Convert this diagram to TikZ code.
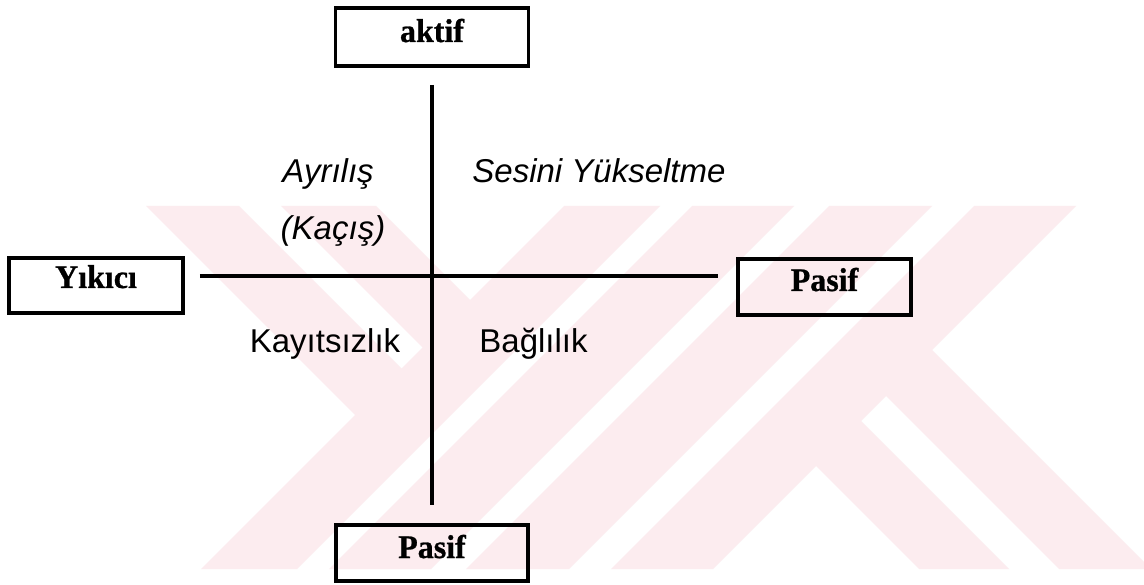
\documentclass[tikz,border=0pt]{standalone}
\usepackage{fontspec}
\setmainfont{Liberation Serif}
\newfontfamily\sansf{Liberation Sans}
\newfontface\boxfont[FakeStretch=0.97,FakeBold=0.8]{Liberation Serif Bold}
\definecolor{wmpink}{RGB}{252,236,239}
\begin{document}
\begin{tikzpicture}[x=1pt,y=-1pt,
  boxnode/.style={draw=black, line width=3.6pt, inner xsep=0pt, inner ysep=0pt,
    anchor=base, font=\boxfont\fontsize{33}{38}\selectfont},
  axisline/.style={draw=black, line width=3.6pt},
  lab/.style={anchor=base, inner sep=0pt, font=\sansf\fontsize{33}{38}\selectfont},
  itlab/.style={lab, font=\sansf\itshape\fontsize{33}{38}\selectfont},
  wm/.style={fill=wmpink, draw=none}]
\useasboundingbox (0,0) rectangle (1144,585);
\fill[white] (0,0) rectangle (1144,585);
% watermark
\begin{scope}
\clip (0,206) rectangle (1144,569);
\fill[wm] (564,206) -- (660,206) -- (297,569) -- (201,569) -- cycle;
\fill[wm] (692,206) -- (794,206) -- (431,569) -- (329,569) -- cycle;
\fill[wm] (829,206) -- (932,206) -- (569,569) -- (466,569) -- cycle;
\fill[wm] (974,206) -- (1076,206) -- (713,569) -- (611,569) -- cycle;
\fill[wm] (146,206) -- (239,206) -- (416.5,383.5) -- (370,430) -- cycle;
\fill[wm] (281,206) -- (376,206) -- (485,315) -- (437.5,362.5) -- cycle;
\fill[wm] (800,450) -- (845,405) -- (1009,569) -- (919,569) -- cycle;
\fill[wm] (870,380) -- (916,334) -- (1151,569) -- (1059,569) -- cycle;
\end{scope}
% boxes
\node[boxnode, minimum width=193pt, text height=34pt, text depth=24pt] (aktif) at (432,42) {aktif};
\node[boxnode, minimum width=174pt, text height=30pt, text depth=25pt] (yikici) at (96,288) {Yıkıcı};
\node[boxnode, minimum width=173pt, text height=32pt, text depth=24pt] (pasifR) at (824.5,291) {Pasif};
\node[boxnode, minimum width=192pt, text height=33pt, text depth=23pt] (pasifB) at (432,558) {Pasif};
% axes
\coordinate (c) at (432,276);
\draw[axisline, shorten <=17pt, shorten >=18pt] (aktif.south) -- (pasifB.north);
\draw[axisline, shorten <=15pt, shorten >=18pt] (yikici.east |- c) -- (pasifR.west |- c);
% labels
\node[itlab] (ayrilis) at (328,183) {Ayrılış};
\node[itlab] (kacis) at (333,240) {(Kaçış)};
\node[itlab] (sesini) at (599,183) {Sesini Yükseltme};
\node[lab] (kayitsiz) at (325,353) {Kayıtsızlık};
\node[lab] (baglilik) at (533.5,353) {Bağlılık};
\end{tikzpicture}
\end{document}
